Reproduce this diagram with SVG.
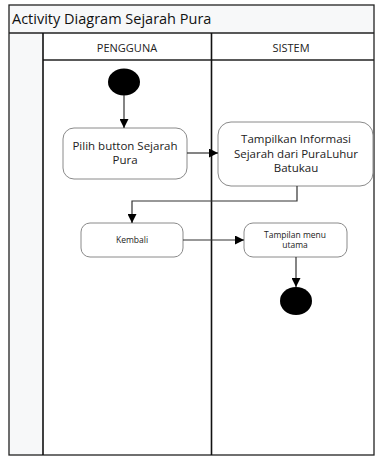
<svg xmlns="http://www.w3.org/2000/svg" width="375" height="456" viewBox="0 0 375 456">
<defs>
<marker id="ah" viewBox="0 0 10 10" refX="10" refY="5" markerWidth="9" markerHeight="9" markerUnits="userSpaceOnUse" orient="auto">
<path d="M0,0 L10,5 L0,10 Z" fill="#000"/>
</marker>
</defs>
<style>
.frame{fill:none;stroke:#222;stroke-width:1.3}
.lane{stroke:#111;stroke-width:1.6;fill:none}
.act{fill:#fff;stroke:#8a8a8a;stroke-width:1}
.t{font-family:"Open Sans","Noto Sans",sans-serif;fill:#222;text-anchor:middle}
.c{fill:none;stroke:#333;stroke-width:1.2}
</style>
<rect x="0" y="0" width="375" height="456" fill="#fff"/>
<rect x="9" y="5" width="365" height="450" fill="#f7f8f9"/>
<rect x="43" y="33" width="331" height="422" fill="#fff"/>
<g id="frame">
<rect x="9" y="5" width="365" height="450" class="frame"/>
<line x1="9" y1="33" x2="374" y2="33" class="frame"/>
<line x1="43" y1="60" x2="374" y2="60" class="frame"/>
<line x1="43" y1="33" x2="43" y2="455" class="lane"/>
<line x1="211.5" y1="33" x2="211.5" y2="455" class="lane"/>
<text x="12" y="24" font-family="'Open Sans','Noto Sans',sans-serif" font-size="14.5" fill="#111">Activity Diagram Sejarah Pura</text>
<text x="127" y="52" class="t" font-size="11">PENGGUNA</text>
<text x="291" y="52" class="t" font-size="11">SISTEM</text>
</g>
<g id="start"><ellipse cx="124" cy="82" rx="16" ry="13.5" fill="#000"/></g>
<g id="pilih">
<rect x="63" y="128" width="124" height="51" rx="11" class="act"/>
<text x="125" y="150" class="t" font-size="11.5">Pilih button Sejarah</text>
<text x="125" y="164" class="t" font-size="11.5">Pura</text>
</g>
<g id="tampilkan">
<rect x="218" y="122" width="155" height="64" rx="13" class="act"/>
<text x="296" y="143" class="t" font-size="11.5">Tampilkan Informasi</text>
<text x="296" y="158" class="t" font-size="11.5">Sejarah dari PuraLuhur</text>
<text x="296" y="172" class="t" font-size="11.5">Batukau</text>
</g>
<g id="kembali">
<rect x="81" y="223" width="102" height="34" rx="9" class="act"/>
<text x="132" y="243" class="t" font-size="8.5">Kembali</text>
</g>
<g id="menu">
<rect x="244" y="223" width="103" height="34" rx="9" class="act"/>
<text x="295" y="238" class="t" font-size="8.5">Tampilan menu</text>
<text x="295" y="247.5" class="t" font-size="8.5">utama</text>
</g>
<g id="end"><ellipse cx="296" cy="301" rx="16" ry="14" fill="#000"/></g>
<g id="connectors">
<line x1="124" y1="95" x2="124" y2="128" class="c" marker-end="url(#ah)"/>
<line x1="187" y1="153" x2="218" y2="153" class="c" marker-end="url(#ah)"/>
<polyline points="297,186 297,201 132,201 132,223" class="c" marker-end="url(#ah)"/>
<line x1="183" y1="240" x2="244" y2="240" class="c" marker-end="url(#ah)"/>
<line x1="296" y1="257" x2="296" y2="287" class="c" marker-end="url(#ah)"/>
</g>
</svg>
